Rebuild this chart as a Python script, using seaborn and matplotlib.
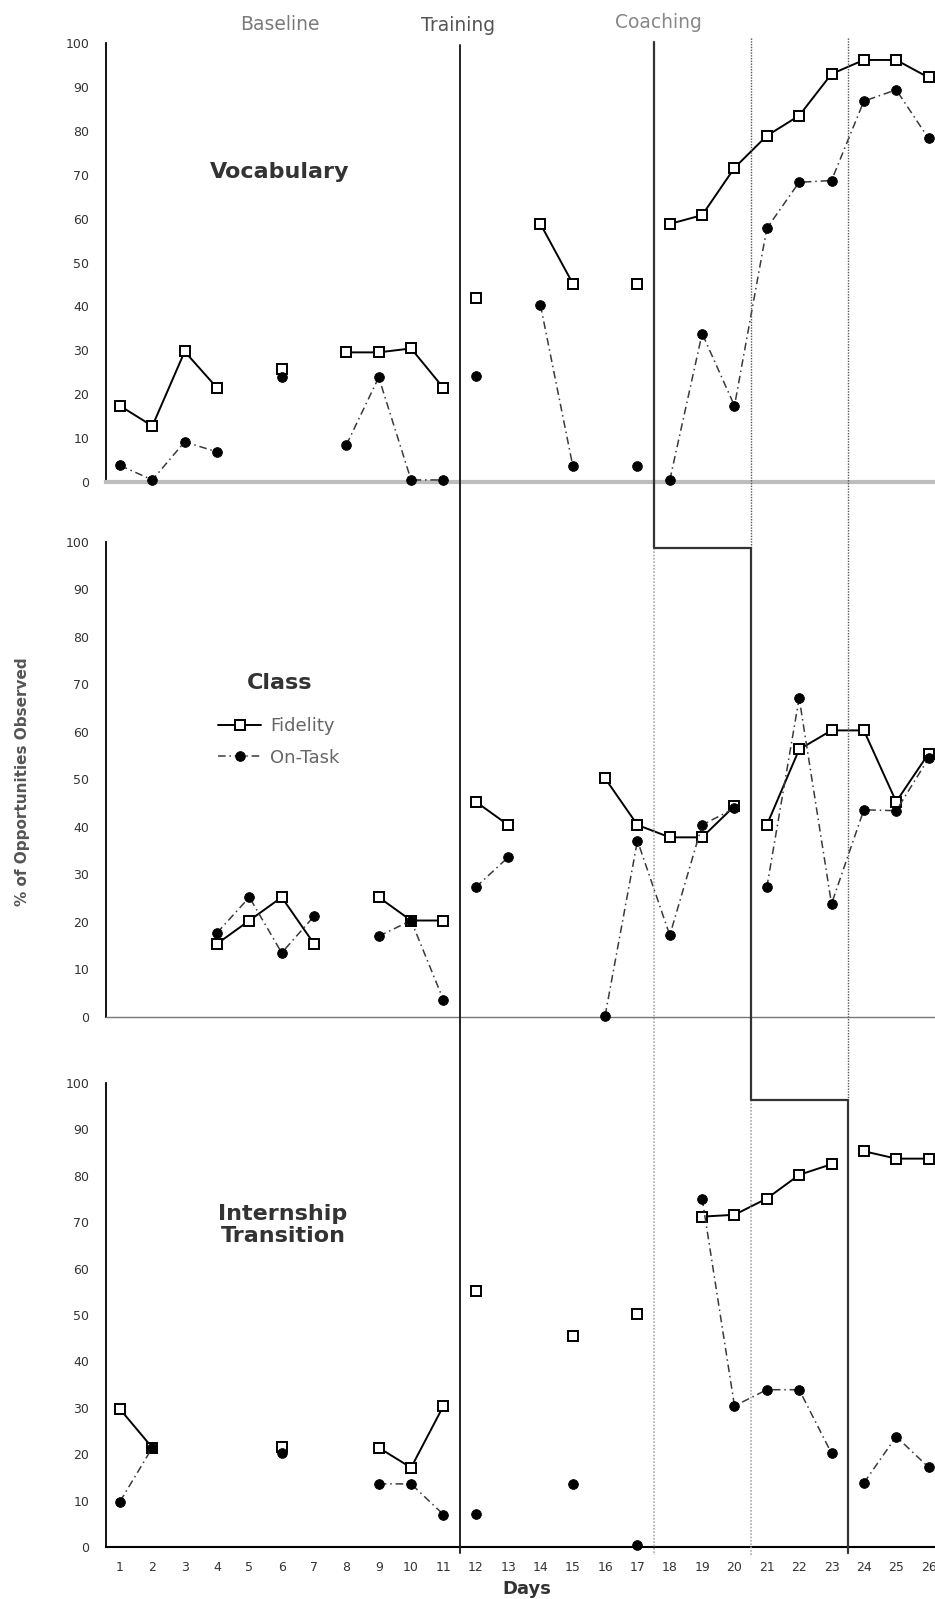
import matplotlib
matplotlib.use("Agg")
import matplotlib.pyplot as plt
import seaborn as sns
import pandas as pd
from matplotlib.lines import Line2D
from matplotlib.transforms import blended_transform_factory

# ---------------- data ----------------
days = list(range(1, 27))
phase_labels = ["Baseline", "Training", "Coaching"]
panel_titles = ["Vocabulary", "Class", "Internship\nTransition"]
series_names = ["Fidelity", "On-Task"]
y_ticks = [0, 10, 20, 30, 40, 50, 60, 70, 80, 90, 100]

N = None
vocab_fidelity = [17.3, 12.7, 29.7, 21.4, N, 25.6, N, 29.5, 29.5, 30.4, 21.4, 42.0, N,
                  58.8, 45.2, N, 45.2, 58.8, 60.8, 71.6, 78.9, 83.5, 93.0, 96.2, 96.2, 92.2]
vocab_ontask = [3.7, 0.4, 9.1, 6.8, N, 23.8, N, 8.4, 23.8, 0.4, 0.4, 24.0, N,
                40.3, 3.6, N, 3.6, 0.4, 33.8, 17.3, 57.8, 68.3, 68.7, 86.8, 89.4, 78.3]
class_fidelity = [N, N, N, 15.4, 20.3, 25.2, 15.4, N, 25.2, 20.3, 20.3, 45.3, 40.4,
                  N, N, 50.2, 40.4, 37.8, 37.8, 44.4, 40.4, 56.3, 60.3, 60.3, 45.3, 55.4]
class_ontask = [N, N, N, 17.7, 25.2, 13.5, 21.2, N, 17.0, 20.3, 3.6, 27.3, 33.6,
                N, N, 0.3, 37.1, 17.2, 40.4, 43.9, 27.3, 67.1, 23.8, 43.6, 43.4, 54.4]
intern_fidelity = [29.7, 21.4, N, N, N, 21.6, N, N, 21.4, 17.1, 30.4, 55.2, N,
                   N, 45.5, N, 50.2, N, 71.2, 71.6, 75.1, 80.2, 82.5, 85.3, 83.7, 83.7]
intern_ontask = [9.8, 21.4, N, N, N, 20.2, N, N, 13.6, 13.6, 7.0, 7.2, N,
                 N, 13.6, N, 0.4, N, 75.1, 30.4, 33.9, 33.9, 20.2, 13.8, 23.8, 17.2]

training_start = 11.5
coaching_start = [17.5, 20.5, 23.5]

# ---------------- layout helpers ----------------
W, H = 935, 1599
sns.set_style("white")
plt.rcParams["font.family"] = ["DejaVu Sans"]

fig = plt.figure(figsize=(W / 100, H / 100), dpi=100)


def fx(px):
    return px / W


def fy(py):
    return 1 - py / H


ax_left = 106
panel_px = [(43.3, 481.7), (541.7, 1017.0), (1083.0, 1547.0)]  # (y of 100, y of 0)
xlim = (0.567, 26.2)

axes = []
for top, bot in panel_px:
    ax = fig.add_axes([fx(ax_left), fy(bot), 1 - fx(ax_left), (bot - top) / H])
    ax.set_xlim(*xlim)
    ax.set_ylim(0, 100)
    axes.append(ax)


def segments(values, cuts):
    rows, seg, prev = [], 0, None
    for d, v in zip(days, values):
        if v is None:
            prev = None
            continue
        if prev is None or any(prev < c < d for c in cuts):
            seg += 1
        rows.append((d, v, seg))
        prev = d
    return pd.DataFrame(rows, columns=["day", "value", "seg"])


fid_kw = dict(color="black", lw=1.4, marker="s", markersize=7.2,
              markerfacecolor="white", markeredgecolor="black",
              markeredgewidth=1.4, clip_on=False, zorder=4)
ont_kw = dict(color="#3a3a3a", lw=1.1, linestyle=(0, (5, 2.5, 1, 2.5)), marker="o",
              markersize=7, markerfacecolor="black", markeredgecolor="black",
              markeredgewidth=0.6, clip_on=False, zorder=5)

panel_series = [(vocab_fidelity, vocab_ontask),
                (class_fidelity, class_ontask),
                (intern_fidelity, intern_ontask)]

bottom_spines = [dict(color="#bdbdbd", lw=3.0),
                 dict(color="#777777", lw=1.0),
                 dict(color="black", lw=1.5)]

for i, ax in enumerate(axes):
    fid, ont = panel_series[i]
    cuts = [training_start, coaching_start[i]]
    sns.lineplot(data=segments(fid, cuts), x="day", y="value", units="seg",
                 estimator=None, ax=ax, legend=False, **fid_kw)
    sns.lineplot(data=segments(ont, cuts), x="day", y="value", units="seg",
                 estimator=None, ax=ax, legend=False, **ont_kw)
    ax.set_xlabel("")
    ax.set_ylabel("")
    ax.set_yticks(y_ticks)
    ax.tick_params(axis="y", length=0, pad=12, labelsize=9, labelcolor="#333333")
    for s in ["top", "right"]:
        ax.spines[s].set_visible(False)
    ax.spines["left"].set_color("black")
    ax.spines["left"].set_linewidth(1.3)
    ax.spines["bottom"].set_color(bottom_spines[i]["color"])
    ax.spines["bottom"].set_linewidth(bottom_spines[i]["lw"])
    ax.set_xticks(days)
    if i < 2:
        ax.tick_params(axis="x", length=0, labelbottom=False)
    else:
        ax.set_xticklabels([str(d) for d in days])
        ax.tick_params(axis="x", length=0, pad=10, labelsize=9, labelcolor="#333333")

# ---------------- phase lines ----------------
tr = blended_transform_factory(axes[2].transData, fig.transFigure)


def vline(x, y0, y1, **kw):
    fig.add_artist(Line2D([x, x], [fy(y0), fy(y1)], transform=tr, **kw))


solid = dict(color="#222222", lw=1.4, zorder=3)
vline(training_start, 45, 1553, **solid)
c1, c2, c3 = coaching_start
step_y = [548.0, 1100.0]
fig.add_artist(Line2D([c1, c1, c2, c2, c3, c3],
                      [fy(41.7), fy(step_y[0]), fy(step_y[0]), fy(step_y[1]), fy(step_y[1]), fy(1553)],
                      transform=tr, color="#333333", lw=1.6, zorder=3))
dark_dot = dict(color="#555555", lw=1.0, linestyle=(0, (1, 1)), zorder=2)
light_dot = dict(color="#aaaaaa", lw=1.2, linestyle=(0, (1, 1)), zorder=2)
vline(c2, 38, step_y[0], **dark_dot)
vline(c3, 38, step_y[1], **dark_dot)
vline(c1, step_y[0], 1555, **light_dot)
vline(c2, step_y[1], 1555, **light_dot)

# ---------------- texts ----------------
fig.text(fx(280), fy(30), phase_labels[0], ha="center", va="baseline",
         fontsize=13.5, color="#7a7a7a")
fig.text(fx(458), fy(31), phase_labels[1], ha="center", va="baseline",
         fontsize=13.5, color="#555555")
fig.text(fx(658), fy(28), phase_labels[2], ha="center", va="baseline",
         fontsize=13.5, color="#888888")

title_pos = [(280, 172), (280, 683), (283, 1225)]
for (tx, ty), t in zip(title_pos, panel_titles):
    fig.text(fx(tx), fy(ty), t, ha="center", va="center", fontsize=16,
             fontweight="bold", color="#333333", linespacing=1.15)

fig.text(fx(23), fy(782), "% of Opportunities Observed", rotation=90,
         ha="center", va="center", fontsize=11, fontweight="bold", color="#555555")
fig.text(fx(527), fy(1589), "Days", ha="center", va="center", fontsize=13,
         fontweight="bold", color="#333333")

# ---------------- legend ----------------
h_fid = Line2D([], [], **{k: v for k, v in fid_kw.items() if k not in ("clip_on", "zorder")})
h_ont = Line2D([], [], **{k: v for k, v in ont_kw.items() if k not in ("clip_on", "zorder")})
leg = axes[1].legend([h_fid, h_ont], series_names, loc="upper left",
                     bbox_to_anchor=(fx(218), fy(717)), bbox_transform=fig.transFigure,
                     frameon=False, fontsize=13, handlelength=2.4, handletextpad=0.5,
                     labelspacing=0.75, borderpad=0, borderaxespad=0)
for t in leg.get_texts():
    t.set_color("#666666")

fig.savefig("out.png", dpi=100)
